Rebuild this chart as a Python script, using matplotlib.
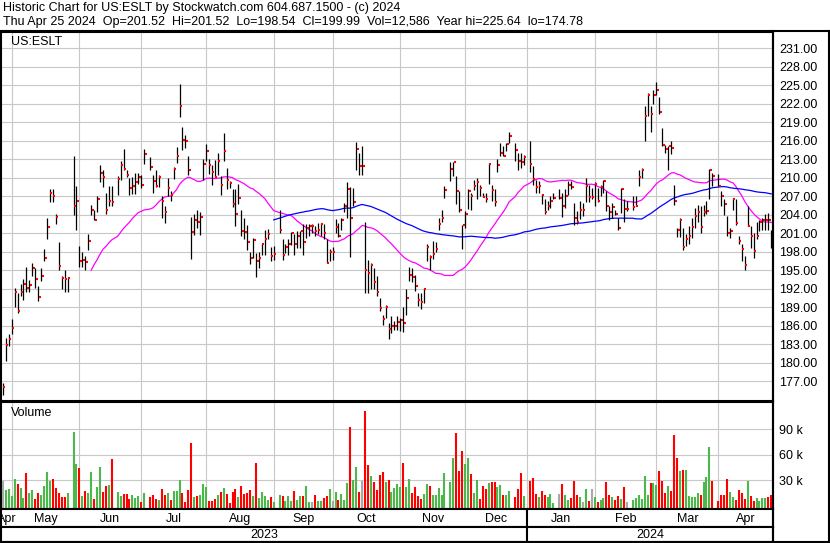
import numpy as np
import pandas as pd
import matplotlib
matplotlib.use('Agg')
import matplotlib.pyplot as plt
from matplotlib.lines import Line2D

plt.rcParams['font.family'] = ['Liberation Sans', 'DejaVu Sans']
plt.rcParams['font.size'] = 9

# ---- data (US:ESLT daily bars, Apr 26 2023 - Apr 25 2024), volume in thousands ----
holidays = ['2023-05-29', '2023-06-19', '2023-07-04', '2023-09-04', '2023-11-23',
            '2023-12-25', '2024-01-01', '2024-01-15', '2024-02-19', '2024-03-29']

high = [176.7, 184.0, 184.6,
        187.0, 192.1, 191.3, 192.8, 193.6, 195.5, 193.4, 196.2, 195.3, 192.5, 195.3, 198.5, 203.4, 208.1, 208.1, 204.2, 199.5, 194.0, 195.1, 193.8, 213.5, 208.6,
        199.0, 198.0, 197.3, 200.9, 205.6, 204.7, 207.1, 212.1, 211.2, 207.5, 208.6, 208.7, 210.3, 212.8, 214.7, 211.3, 209.9, 210.2, 210.8, 210.8, 210.5,
        214.6, 213.3, 210.5, 211.2, 210.5, 207.0, 205.4, 209.9, 207.9, 211.7, 215.0, 225.3, 218.3, 217.0, 213.5, 203.6, 204.2, 204.7, 204.4, 213.1,
        215.5, 213.1, 212.0, 212.9, 214.0, 210.3, 217.3, 211.6, 209.4, 208.1, 208.2, 209.0, 204.7, 203.5, 202.3, 197.9, 200.2, 197.8, 197.9, 199.4, 201.6, 201.7, 198.8,
        198.9, 204.8, 200.1, 199.3, 200.0, 201.2, 200.9, 201.4, 201.4, 202.5, 202.5, 202.5, 202.5, 202.1, 202.7, 202.7, 202.5, 200.0, 198.5, 198.7,
        203.3, 202.7, 203.5, 205.9, 209.3, 208.5, 208.3, 215.8, 214.0, 215.1, 202.8, 196.6, 196.1, 195.4, 194.0, 190.5, 187.7, 189.4, 186.5, 187.5, 186.8, 187.5,
        187.3, 189.0, 192.0, 195.5, 195.3, 194.3, 191.3, 191.3, 192.1, 199.3, 197.5, 199.8, 199.5, 203.5, 204.8, 208.6, 212.5, 212.6, 210.3, 207.8, 202.4,
        204.6, 208.1, 207.5, 209.6, 209.9, 208.9, 207.6, 207.6, 212.4, 208.8, 208.1, 213.1, 215.7, 215.2, 215.7, 217.5, 215.7, 214.0, 214.0, 213.7,
        216.0, 211.9, 209.7, 209.4, 207.3, 206.5, 206.3, 207.0, 207.5, 208.2, 207.5, 208.1, 209.4, 209.4, 205.9, 204.6, 206.3, 205.9, 210.0, 208.9, 208.3,
        209.3, 208.3, 208.9, 209.7, 207.8, 205.4, 205.9, 204.8, 203.5, 208.3, 206.5, 206.2, 207.0, 207.0, 211.2, 211.6, 221.7, 223.7, 221.6, 224.2,
        225.6, 223.1, 218.1, 215.4, 215.2, 216.0, 208.9, 201.9, 203.4, 201.9, 200.8, 202.1, 203.5, 205.1, 205.6, 205.5, 205.6, 206.2, 211.4, 210.8,
        210.6, 207.8, 206.6, 203.8, 201.9, 206.7, 206.6, 200.5, 199.2, 197.3, 205.4, 202.1, 201.1, 202.9, 203.2, 203.5, 204.2, 204.3, 201.52]

low = [174.78, 180.2, 182.7,
       184.6, 189.0, 188.1, 190.8, 190.1, 191.4, 191.4, 194.1, 192.1, 190.0, 193.2, 196.5, 200.1, 206.0, 206.0, 202.5, 195.1, 191.9, 191.4, 191.4, 203.9, 201.6,
       195.5, 195.5, 195.1, 198.2, 203.9, 203.1, 204.4, 209.3, 208.5, 204.1, 205.4, 205.4, 207.2, 209.7, 211.3, 210.1, 207.2, 207.3, 207.3, 209.0, 208.3,
       212.2, 211.3, 207.5, 208.5, 208.5, 203.4, 202.6, 207.0, 206.3, 209.8, 212.4, 219.8, 214.5, 214.9, 210.5, 196.8, 200.7, 201.9, 200.7, 209.7,
       212.8, 210.6, 208.8, 210.1, 210.5, 207.2, 212.7, 208.1, 208.3, 205.2, 202.1, 205.8, 200.5, 200.1, 198.2, 196.0, 196.9, 193.9, 195.3, 197.4, 197.4, 200.0, 196.5,
       196.7, 201.1, 196.7, 197.8, 197.5, 199.1, 197.5, 198.6, 198.6, 197.5, 200.2, 200.5, 201.1, 200.5, 200.8, 200.5, 200.0, 196.1, 196.5, 196.7,
       201.1, 200.4, 201.6, 204.4, 203.5, 197.2, 205.5, 211.2, 210.4, 210.5, 191.3, 191.3, 191.9, 191.9, 190.8, 188.4, 186.1, 187.3, 183.9, 184.8, 185.3, 185.3,
       185.1, 185.0, 187.7, 193.2, 193.1, 191.6, 189.2, 188.7, 189.7, 196.5, 195.0, 196.8, 197.9, 201.6, 202.9, 206.7, 209.4, 210.3, 205.8, 204.4, 198.5,
       201.8, 205.0, 204.7, 208.0, 206.5, 207.1, 206.8, 206.1, 209.0, 206.2, 205.5, 211.0, 213.6, 213.5, 214.3, 215.7, 212.7, 211.3, 211.6, 212.0,
       211.0, 208.9, 207.5, 207.5, 205.8, 204.2, 204.7, 205.1, 206.5, 206.5, 203.6, 205.1, 207.2, 208.1, 202.3, 202.5, 203.3, 203.8, 206.0, 206.0, 206.5,
       205.4, 206.0, 207.0, 207.5, 204.6, 203.1, 203.5, 203.9, 201.6, 204.3, 202.9, 204.6, 204.8, 205.4, 208.6, 210.0, 216.0, 220.1, 217.4, 222.0,
       223.5, 220.4, 215.1, 214.0, 211.3, 213.9, 205.6, 200.4, 200.4, 198.2, 198.9, 199.3, 200.2, 201.9, 202.9, 201.1, 203.8, 204.2, 206.6, 208.6,
       208.6, 205.4, 204.0, 200.5, 200.2, 204.8, 202.4, 199.3, 196.5, 195.1, 202.1, 198.6, 197.0, 200.0, 201.3, 201.6, 201.5, 201.6, 198.54]

close = [176.0, 182.9, 183.8,
         185.6, 191.4, 188.4, 191.4, 192.8, 192.1, 192.6, 195.3, 193.5, 190.7, 194.0, 196.9, 202.0, 207.6, 207.1, 203.6, 195.6, 193.7, 193.5, 193.7, 205.5, 206.3,
         196.5, 196.7, 196.3, 199.7, 204.7, 203.2, 206.5, 210.7, 210.1, 204.8, 206.3, 206.0, 209.8, 212.0, 211.5, 210.5, 208.3, 208.6, 209.3, 210.1, 208.9,
         213.8, 211.7, 209.4, 208.6, 210.2, 206.3, 204.4, 208.3, 207.2, 211.5, 213.5, 221.7, 216.1, 215.9, 211.2, 201.2, 203.2, 202.9, 203.6, 212.2,
         214.3, 212.0, 211.0, 210.2, 212.7, 208.8, 214.3, 209.6, 209.1, 205.8, 204.1, 206.7, 201.3, 201.2, 199.5, 196.9, 199.9, 196.5, 196.9, 199.2, 200.0, 200.9, 197.3,
         197.6, 201.5, 197.4, 198.7, 199.3, 201.0, 199.3, 200.5, 201.3, 199.5, 201.9, 202.2, 202.2, 201.3, 201.6, 202.5, 201.0, 196.2, 197.9, 197.9,
         202.0, 200.5, 203.2, 205.4, 208.1, 203.4, 206.0, 214.6, 211.9, 211.9, 195.1, 194.5, 195.8, 193.1, 191.4, 188.8, 187.0, 189.0, 185.5, 185.9, 186.0, 186.6,
         186.9, 186.4, 190.5, 194.3, 193.9, 192.4, 190.1, 189.9, 191.9, 198.7, 197.1, 197.6, 198.5, 202.5, 203.4, 208.0, 211.5, 212.5, 207.8, 204.7, 202.3,
         204.2, 207.8, 207.1, 208.7, 209.3, 208.3, 206.9, 206.6, 212.3, 208.0, 206.0, 212.0, 214.1, 213.6, 215.5, 216.7, 214.5, 212.8, 212.6, 213.3,
         212.3, 209.8, 208.5, 208.6, 207.2, 204.4, 205.4, 206.2, 206.7, 206.7, 205.4, 207.1, 208.9, 208.5, 203.4, 202.8, 204.8, 204.8, 208.6, 206.8, 206.8,
         209.0, 206.2, 208.5, 209.4, 205.4, 204.4, 205.2, 204.1, 201.8, 208.1, 205.0, 205.0, 205.3, 205.5, 210.2, 211.3, 220.0, 223.4, 220.3, 223.4,
         224.2, 220.6, 215.4, 214.6, 215.1, 214.9, 206.3, 201.6, 203.2, 198.7, 200.1, 200.6, 202.0, 203.8, 204.4, 202.0, 204.4, 204.6, 211.2, 210.3,
         208.6, 207.0, 205.8, 201.0, 201.3, 206.5, 202.6, 199.7, 198.4, 195.9, 202.1, 200.5, 198.1, 200.5, 202.8, 203.1, 203.2, 203.1, 199.99]

volume = [29.2, 18.3, 19.0,
          11.2, 31.2, 25.3, 20.6, 9.2, 38.6, 14.7, 18.3, 7.7, 14.7, 12.4, 23.0, 39.4, 28.8, 31.2, 21.0, 14.7, 10.0, 10.0, 14.7, 86.5, 48.8,
          44.1, 11.2, 17.1, 14.7, 39.4, 7.7, 21.8, 45.3, 15.9, 23.0, 24.1, 54.7, 15.9, 11.2, 13.6, 13.6, 7.7, 12.4, 9.2, 11.2, 4.2,
          14.7, 10.0, 12.4, 7.7, 6.9, 19.4, 12.4, 14.7, 6.5, 17.1, 17.1, 30.0, 14.7, 4.2, 18.3, 73.5, 10.0, 11.2, 12.4, 25.3,
          21.8, 5.3, 5.3, 7.7, 12.4, 15.9, 20.6, 13.6, 3.0, 15.9, 19.4, 10.0, 23.0, 13.6, 14.7, 18.3, 11.2, 50.0, 9.0, 15.9, 11.2, 6.5, 10.0,
          4.2, 12.4, 11.2, 5.3, 11.2, 5.3, 17.1, 6.5, 11.2, 11.2, 23.0, 4.2, 4.2, 12.4, 5.3, 5.3, 8.9, 11.2, 19.4, 5.3,
          15.9, 6.5, 13.6, 6.5, 26.5, 92.3, 30.0, 45.3, 15.9, 28.8, 111.2, 47.7, 34.7, 27.7, 18.3, 35.9, 39.4, 27.7, 30.0, 15.9, 20.6, 25.3,
          21.8, 50.0, 21.8, 31.2, 14.7, 21.8, 11.2, 7.7, 13.6, 25.3, 23.0, 12.4, 12.4, 20.6, 12.4, 38.3, 27.7, 55.9, 85.3, 40.6, 64.1,
          48.8, 55.9, 37.1, 14.7, 30.0, 7.7, 23.0, 19.4, 26.5, 27.7, 27.7, 21.8, 24.1, 12.4, 12.4, 17.5, 10.0, 19.4, 38.3, 11.2,
          28.8, 32.4, 13.6, 10.0, 17.1, 12.4, 10.0, 13.6, 3.0, 13.6, 25.3, 12.4, 6.5, 8.9, 28.8, 12.4, 10.0, 4.2, 19.4, 5.3, 19.4,
          10.0, 4.2, 6.5, 8.9, 27.7, 12.4, 10.0, 6.5, 11.2, 8.0, 21.8, 4.2, 6.5, 8.9, 12.4, 8.0, 34.7, 12.4, 26.5, 26.5,
          24.1, 40.6, 28.8, 14.7, 23.0, 17.1, 82.9, 55.9, 40.6, 41.8, 41.8, 11.2, 10.0, 10.0, 14.7, 12.4, 27.7, 33.5, 68.8, 28.8,
          5.3, 12.4, 12.4, 31.2, 15.9, 10.0, 6.5, 18.3, 14.7, 7.7, 28.8, 11.2, 5.3, 8.9, 5.3, 8.9, 8.9, 10.0, 12.6]

price_ticks = np.arange(177, 232, 3)
vol_ticks = [30, 60, 90]
vol_tick_labels = ['30 k', '60 k', '90 k']
month_names = ['Apr', 'May', 'Jun', 'Jul', 'Aug', 'Sep', 'Oct', 'Nov', 'Dec',
               'Jan', 'Feb', 'Mar', 'Apr']
header1 = 'Historic Chart for US:ESLT by Stockwatch.com 604.687.1500 - (c) 2024'
header2 = ('Thu Apr 25 2024  Op=201.52  Hi=201.52  Lo=198.54  Cl=199.99  '
           'Vol=12,586  Year hi=225.64  lo=174.78')

# ---- trading calendar: x is the weekday count from May 1 2023 (holidays leave gaps) ----
dates = pd.bdate_range('2023-04-26', '2024-04-25')
dates = dates[~dates.isin(pd.to_datetime(holidays))]
base = np.datetime64('2023-05-01')
x = np.busday_count(base, dates.values.astype('datetime64[D]'))

df = pd.DataFrame({'x': x, 'high': high, 'low': low, 'close': close, 'vol': volume})
df['ma30'] = df['close'].rolling(30).mean()
df['ma90'] = df['close'].rolling(90).mean()
chg = df['close'].diff()
vol_colors = np.where(chg > 0, '#4cb84c', np.where(chg < 0, '#ff0000', '#a8a8a8'))

month_starts = pd.date_range('2023-05-01', '2024-04-01', freq='MS').values.astype('datetime64[D]')
grid_x = np.busday_count(base, np.busday_offset(month_starts, 0, roll='backward'))
year_x = grid_x[8]  # Jan 2024

# ---- layout in pixels ----
W, H = 830, 543
def box(l, t, r, b):
    return [l / W, 1 - b / H, (r - l) / W, (b - t) / H]

px0, px_per_day = 11.7, 2.944
xlim = ((1 - px0) / px_per_day, (773 - px0) / px_per_day)

fig = plt.figure(figsize=(8.3, 5.43), dpi=100)
grid_kw = dict(color='#c8c8c8', lw=0.8, zorder=0)

# price panel
ax = fig.add_axes(box(1, 32, 773, 401))
ax.set_xlim(xlim)
ax.set_ylim(173.77, 233.66)
for gx in grid_x:
    ax.axvline(gx, **grid_kw)
for gy in price_ticks:
    ax.axhline(gy, **grid_kw)
ax.plot(df['x'], df['ma30'], color='#ff00ff', lw=0.9, zorder=2)
ax.plot(df['x'], df['ma90'], color='#0000ff', lw=0.9, zorder=2)
ax.vlines(df['x'], df['low'], df['high'], color='black', lw=0.9, zorder=3)
ax.hlines(df['close'], df['x'] + 0.17, df['x'] + 0.85, color='#ff0000', lw=1.5, zorder=4)
ax.set_xticks([])
ax.yaxis.tick_right()
ax.set_yticks(price_ticks)
ax.set_yticklabels(['%.2f' % t for t in price_ticks])
ax.tick_params(axis='y', length=0, pad=4.3, labelsize=9)
ax.text(10 / 772, 1 - 10 / 369, 'US:ESLT', transform=ax.transAxes, va='center', ha='left', fontsize=9)

# volume panel
axv = fig.add_axes(box(1, 402, 773, 508.5))
axv.set_xlim(xlim)
vbot = -3.5
axv.set_ylim(vbot, 121.8)
for gx in grid_x:
    axv.axvline(gx, **grid_kw)
for gy in vol_ticks:
    axv.axhline(gy, **grid_kw)
axv.vlines(df['x'], vbot, df['vol'], colors=vol_colors, lw=1.5, zorder=3)
axv.set_xticks([])
axv.yaxis.tick_right()
axv.set_yticks(vol_ticks)
axv.set_yticklabels(vol_tick_labels)
axv.tick_params(axis='y', length=0, pad=4.3, labelsize=9)
axv.text(10 / 772, 1 - 11 / 106.5, 'Volume', transform=axv.transAxes, va='center', ha='left', fontsize=9)

# month row
axm = fig.add_axes(box(1, 508.5, 773, 527))
axm.set_xlim(xlim)
axm.set_ylim(0, 1)
axm.set_xticks([])
axm.set_yticks([])
edges = np.concatenate([[xlim[0]], grid_x, [xlim[1]]])
for name, a, b in zip(month_names, edges[:-1], edges[1:]):
    axm.text((a + b) / 2, 0.45, name, ha='center', va='center', fontsize=9, clip_on=True)
axm.axvline(year_x, color='black', lw=1.5)

# year row
axy = fig.add_axes(box(1, 527, 773, 541.5))
axy.set_xlim(xlim)
axy.set_ylim(0, 1)
axy.set_xticks([])
axy.set_yticks([])
axy.text((xlim[0] + year_x) / 2, 0.45, '2023', ha='center', va='center', fontsize=9)
axy.text((year_x + xlim[1]) / 2, 0.45, '2024', ha='center', va='center', fontsize=9)
axy.axvline(year_x, color='black', lw=1.5)

for a in (ax, axv, axm, axy):
    for s in a.spines.values():
        s.set_linewidth(1.5)
        s.set_color('black')

# outer frame lines
fig.add_artist(Line2D([0, 1], [1 - 31 / H, 1 - 31 / H], color='black', lw=1.5))
fig.add_artist(Line2D([773 / W, 773 / W], [1 - 541.5 / H, 1 - 31 / H], color='black', lw=1.5))
fig.add_artist(Line2D([828.5 / W, 828.5 / W], [1 - 541.5 / H, 1 - 31 / H], color='black', lw=1.5))
fig.add_artist(Line2D([0, 1], [1 - 541.5 / H, 1 - 541.5 / H], color='black', lw=1.5))

fig.text(3 / W, 1 - 8.5 / H, header1, ha='left', va='center', fontsize=9)
fig.text(3 / W, 1 - 22.5 / H, header2, ha='left', va='center', fontsize=9)

fig.savefig('out.png', dpi=100)
